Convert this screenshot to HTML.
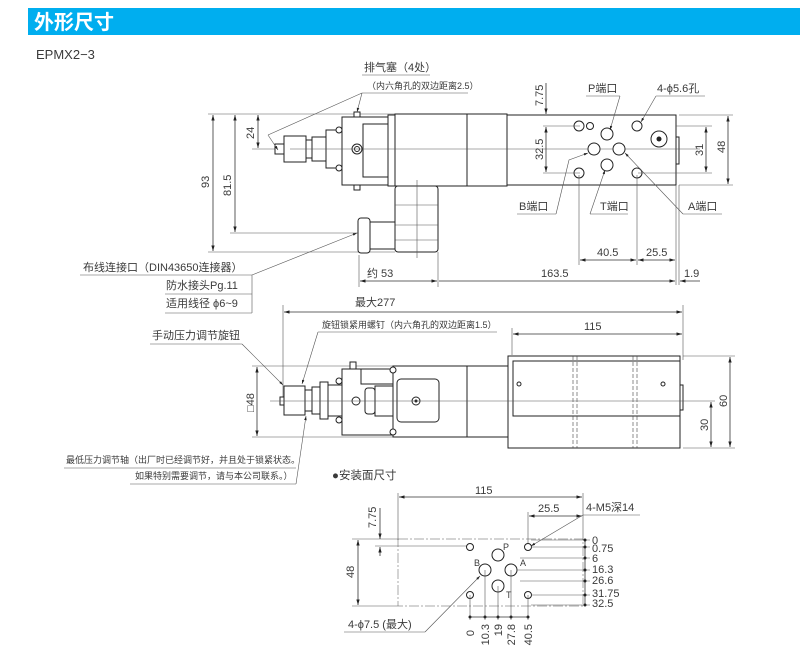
<!DOCTYPE html>
<html><head><meta charset="utf-8"><style>
body{margin:0;background:#fff;}
svg{display:block;font-family:"Liberation Sans","Noto Sans CJK SC",sans-serif;}
.l{stroke:#333;stroke-width:0.8;fill:none}
.t{stroke:#555;stroke-width:0.6;fill:none}
.b{stroke:#222;stroke-width:1;fill:#fff}
.c{stroke:#555;stroke-width:0.5;stroke-dasharray:10 2 2 2;fill:none}
.d{stroke:#444;stroke-width:0.6;stroke-dasharray:4 2;fill:none}
text{font-size:11px;fill:#3a3a3a}
.s{font-size:9px}
</style></head><body>
<svg width="800" height="659" viewBox="0 0 800 659">
<defs>
<marker id="a" viewBox="0 0 10 10" refX="10" refY="5" markerWidth="7" markerHeight="7" orient="auto-start-reverse"><path d="M0,2 L10,5 L0,8z" fill="#222"/></marker>
</defs>
<rect x="28" y="8" width="772" height="27" fill="#00aeef"/>
<text x="34" y="29" style="font-size:20px;fill:#fff;font-weight:bold">外形尺寸</text>
<text x="36" y="59" style="font-size:13px">EPMX2−3</text>

<!-- ===== TOP VIEW ===== -->
<line class="t" x1="208" y1="114" x2="507" y2="114"/>
<line class="t" x1="230" y1="233" x2="360" y2="233"/>
<line class="t" x1="208" y1="252" x2="395" y2="252"/>
<line class="t" x1="252" y1="149" x2="290" y2="149"/>
<line class="l" x1="213" y1="115" x2="213" y2="251" marker-start="url(#a)" marker-end="url(#a)"/>
<line class="l" x1="235" y1="115" x2="235" y2="232" marker-start="url(#a)" marker-end="url(#a)"/>
<line class="l" x1="258" y1="115" x2="258" y2="148" marker-start="url(#a)" marker-end="url(#a)"/>
<text x="209" y="188" transform="rotate(-90 209 188)">93</text>
<text x="231" y="196" transform="rotate(-90 231 196)">81.5</text>
<text x="254" y="139" transform="rotate(-90 254 139)">24</text>
<line class="l" x1="431" y1="115" x2="431" y2="148" marker-start="url(#a)" marker-end="url(#a)"/>
<text x="428" y="145" transform="rotate(-90 428 145)">25.1</text>
<rect class="b" x="275" y="144" width="10" height="10"/>
<rect class="b" x="284" y="136" width="22" height="26"/>
<rect class="b" x="306" y="140" width="6" height="18"/>
<rect class="b" x="312" y="137" width="14" height="24"/>
<rect class="b" x="326" y="130" width="16" height="38"/>
<circle class="b" cx="339" cy="130" r="3"/><circle class="b" cx="339" cy="168" r="3"/>
<rect class="b" x="342" y="117" width="46" height="68"/>
<rect class="b" x="363" y="124" width="25" height="53"/>
<circle class="b" cx="357" cy="149" r="5"/><circle class="b" cx="357" cy="149" r="2.5"/>
<rect class="b" x="354" y="112" width="6" height="5"/><rect class="b" x="354" y="185" width="6" height="5"/>
<rect class="b" x="388" y="115" width="7" height="71"/>
<rect class="b" x="395" y="114" width="72" height="72"/>
<rect class="b" x="467" y="114" width="40" height="72"/>
<rect class="b" x="507" y="115" width="169" height="70"/>
<rect class="b" x="676" y="137" width="3" height="27"/>
<rect class="b" x="395" y="186" width="43" height="66" rx="3"/>
<line class="t" x1="395" y1="205" x2="438" y2="205"/>
<line class="t" x1="395" y1="225" x2="438" y2="225"/>
<line class="t" x1="395" y1="240" x2="438" y2="240"/>
<rect class="b" x="358" y="218" width="12" height="35" rx="3"/>
<rect class="b" x="370" y="222" width="25" height="27"/>
<line class="t" x1="417" y1="180" x2="417" y2="258"/>
<line class="t" x1="290" y1="149" x2="700" y2="149"/>
<g class="b">
<circle cx="579" cy="126" r="5"/><circle cx="590" cy="126" r="3.5"/>
<circle cx="607" cy="134" r="6"/><circle cx="594" cy="149" r="6"/><circle cx="619" cy="149" r="6"/>
<circle cx="607" cy="165" r="6"/><circle cx="579" cy="173" r="5"/><circle cx="637" cy="173" r="5"/>
<circle cx="637" cy="126" r="5"/><circle cx="659" cy="139" r="8"/>
</g>
<circle cx="659" cy="139" r="2.5" fill="#222"/>
<line class="t" x1="543" y1="126" x2="580" y2="126"/>
<line class="t" x1="543" y1="173" x2="580" y2="173"/>
<line class="t" x1="676" y1="126" x2="712" y2="126"/><line class="t" x1="638" y1="173" x2="712" y2="173"/>
<line class="t" x1="679" y1="115" x2="733" y2="115"/><line class="t" x1="679" y1="185" x2="733" y2="185"/>
<line class="l" x1="728" y1="116" x2="728" y2="184" marker-start="url(#a)" marker-end="url(#a)"/>
<line class="l" x1="706" y1="127" x2="706" y2="172" marker-start="url(#a)" marker-end="url(#a)"/>
<line class="l" x1="546" y1="127" x2="546" y2="172" marker-start="url(#a)" marker-end="url(#a)"/>
<line class="l" x1="546" y1="83" x2="546" y2="114" marker-end="url(#a)"/>
<text x="725" y="153" transform="rotate(-90 725 153)">48</text>
<text x="703" y="156" transform="rotate(-90 703 156)">31</text>
<text x="543" y="160" transform="rotate(-90 543 160)">32.5</text>
<text x="543" y="106" transform="rotate(-90 543 106)">7.75</text>
<text x="588" y="92">P端口</text>
<line class="t" x1="586" y1="96" x2="620" y2="96"/><line class="t" x1="620" y1="96" x2="610" y2="130" marker-end="url(#a)"/>
<text x="657" y="92">4-ϕ5.6孔</text>
<line class="t" x1="656" y1="96" x2="705" y2="96"/><line class="t" x1="656" y1="96" x2="641" y2="122" marker-end="url(#a)"/>
<text x="519" y="210">B端口</text>
<line class="t" x1="517" y1="214" x2="556" y2="214"/><polyline class="t" points="556,214 569,160 588,153" marker-end="url(#a)"/>
<text x="600" y="210">T端口</text>
<line class="t" x1="590" y1="214" x2="628" y2="214"/><line class="t" x1="590" y1="214" x2="605" y2="170" marker-end="url(#a)"/>
<text x="688" y="210">A端口</text>
<line class="t" x1="683" y1="214" x2="722" y2="214"/><line class="t" x1="683" y1="214" x2="625" y2="153" marker-end="url(#a)"/>
<line class="t" x1="579" y1="175" x2="579" y2="265"/><line class="t" x1="637" y1="175" x2="637" y2="265"/>
<line class="t" x1="676" y1="185" x2="676" y2="285"/><line class="t" x1="679" y1="185" x2="679" y2="285"/>
<line class="l" x1="580" y1="260" x2="636" y2="260" marker-start="url(#a)" marker-end="url(#a)"/>
<line class="l" x1="638" y1="260" x2="675" y2="260" marker-start="url(#a)" marker-end="url(#a)"/>
<text x="597" y="256">40.5</text><text x="646" y="256">25.5</text>
<line class="t" x1="359" y1="255" x2="359" y2="287"/><line class="t" x1="438" y1="252" x2="438" y2="287"/>
<line class="l" x1="360" y1="281" x2="437" y2="281" marker-start="url(#a)" marker-end="url(#a)"/>
<line class="l" x1="439" y1="281" x2="675" y2="281" marker-end="url(#a)"/>
<line class="l" x1="700" y1="281" x2="680" y2="281" marker-end="url(#a)"/>
<text x="367" y="277">约 53</text><text x="541" y="277">163.5</text><text x="684" y="277">1.9</text>
<text x="364" y="71">排气塞（4处）</text>
<line class="t" x1="362" y1="75" x2="430" y2="75"/>
<text x="367" y="89" class="s">（内六角孔的双边距离2.5）</text>
<line class="t" x1="362" y1="93" x2="468" y2="93"/>
<line class="t" x1="362" y1="93" x2="357" y2="112" marker-end="url(#a)"/>
<line class="t" x1="362" y1="93" x2="268" y2="135"/><line class="t" x1="268" y1="135" x2="278" y2="150" marker-end="url(#a)"/>
<text x="83" y="271">布线连接口（DIN43650连接器）</text>
<line class="t" x1="80" y1="275" x2="252" y2="275"/>
<line class="t" x1="252" y1="275" x2="357" y2="233" marker-end="url(#a)"/>
<text x="166" y="289">防水接头Pg.11</text>
<line class="t" x1="165" y1="294" x2="252" y2="294"/>
<text x="166" y="307">适用线径 ϕ6~9</text>
<line class="t" x1="165" y1="313" x2="252" y2="313"/>
<line class="t" x1="252" y1="275" x2="252" y2="313"/>

<!-- ===== MID VIEW ===== -->
<text x="355" y="306">最大277</text>
<line class="t" x1="283" y1="305" x2="283" y2="400"/><line class="t" x1="683" y1="305" x2="683" y2="360"/>
<line class="l" x1="284" y1="312" x2="682" y2="312" marker-start="url(#a)" marker-end="url(#a)"/>
<text x="584" y="330">115</text>
<line class="t" x1="512" y1="328" x2="512" y2="355"/>
<line class="l" x1="513" y1="334" x2="682" y2="334" marker-start="url(#a)" marker-end="url(#a)"/>
<text x="322" y="328" class="s">旋钮锁紧用螺钉（内六角孔的双边距离1.5）</text>
<line class="t" x1="318" y1="332" x2="497" y2="332"/>
<line class="t" x1="318" y1="332" x2="302" y2="384" marker-end="url(#a)"/>
<text x="152" y="339">手动压力调节旋钮</text>
<line class="t" x1="150" y1="344" x2="242" y2="344"/>
<line class="t" x1="242" y1="344" x2="283" y2="385" marker-end="url(#a)"/>
<line class="t" x1="252" y1="366" x2="508" y2="366"/><line class="t" x1="252" y1="437" x2="508" y2="437"/>
<line class="l" x1="257" y1="367" x2="257" y2="436" marker-start="url(#a)" marker-end="url(#a)"/>
<text x="254" y="412" transform="rotate(-90 254 412)">□48</text>
<rect class="b" x="280" y="397" width="5" height="8"/>
<rect class="b" x="284" y="386" width="21" height="29"/>
<rect class="b" x="305" y="390" width="7" height="21"/>
<rect class="b" x="312" y="387" width="8" height="27"/>
<rect class="b" x="320" y="382" width="8" height="37"/>
<rect class="b" x="328" y="385" width="14" height="31"/>
<rect class="b" x="342" y="369" width="51" height="66"/>
<rect class="b" x="350" y="362" width="6" height="7"/>
<rect class="b" x="361" y="369" width="32" height="15"/>
<rect class="b" x="365" y="388" width="10" height="26" rx="3"/>
<rect class="b" x="375" y="386" width="22" height="30"/>
<circle class="b" cx="356" cy="401" r="4"/>
<circle class="b" cx="339" cy="381" r="3"/><circle class="b" cx="339" cy="420" r="3"/>
<rect class="b" x="393" y="366" width="74" height="71"/>
<circle class="b" cx="393" cy="370" r="3"/><circle class="b" cx="393" cy="432" r="3"/>
<rect class="b" x="397" y="379" width="42" height="43" rx="4"/>
<circle class="b" cx="416" cy="401" r="4"/><circle cx="416" cy="401" r="1.5" fill="#222"/>
<rect class="b" x="467" y="366" width="41" height="71"/>
<rect class="b" x="508" y="356" width="172" height="92"/>
<rect class="b" x="513" y="361" width="167" height="55"/>
<rect class="b" x="680" y="385" width="3" height="25"/>
<circle class="b" cx="519" cy="384" r="2"/><circle class="b" cx="663" cy="384" r="2"/>
<line class="d" x1="573" y1="356" x2="573" y2="448"/><line class="d" x1="577" y1="356" x2="577" y2="448"/>
<line class="d" x1="633" y1="356" x2="633" y2="448"/><line class="d" x1="637" y1="356" x2="637" y2="448"/>
<line class="t" x1="270" y1="401" x2="715" y2="401"/>
<line class="t" x1="683" y1="356" x2="735" y2="356"/><line class="t" x1="683" y1="448" x2="735" y2="448"/>
<line class="l" x1="730" y1="357" x2="730" y2="447" marker-start="url(#a)" marker-end="url(#a)"/>
<line class="l" x1="711" y1="402" x2="711" y2="447" marker-start="url(#a)" marker-end="url(#a)"/>
<text x="727" y="407" transform="rotate(-90 727 407)">60</text>
<text x="708" y="431" transform="rotate(-90 708 431)">30</text>
<text x="66" y="463" class="s">最低压力调节轴（出厂时已经调节好，并且处于锁紧状态。</text>
<line class="t" x1="64" y1="468" x2="296" y2="468"/>
<text x="135" y="479" class="s">如果特别需要调节，请与本公司联系。）</text>
<line class="t" x1="130" y1="484" x2="296" y2="484"/>
<line class="t" x1="296" y1="484" x2="306" y2="416" marker-end="url(#a)"/>

<!-- ===== BOTTOM VIEW ===== -->
<text x="332" y="479" style="font-size:11.5px">●安装面尺寸</text>
<line class="t" x1="398" y1="493" x2="398" y2="540"/><line class="t" x1="583" y1="493" x2="583" y2="540"/>
<line class="l" x1="399" y1="497" x2="582" y2="497" marker-start="url(#a)" marker-end="url(#a)"/>
<text x="475" y="494">115</text>
<line class="t" x1="528" y1="512" x2="528" y2="546"/>
<line class="l" x1="529" y1="516" x2="582" y2="516" marker-start="url(#a)" marker-end="url(#a)"/>
<text x="538" y="512">25.5</text>
<text x="586" y="511">4-M5深14</text>
<line class="t" x1="583" y1="515" x2="640" y2="515"/>
<line class="t" x1="583" y1="515" x2="531" y2="546" marker-end="url(#a)"/>
<rect class="c" x="398" y="539" width="185" height="67"/>
<line class="t" x1="352" y1="539" x2="398" y2="539"/><line class="t" x1="352" y1="606" x2="398" y2="606"/>
<line class="t" x1="375" y1="546" x2="470" y2="546"/>
<line class="l" x1="358" y1="540" x2="358" y2="605" marker-start="url(#a)" marker-end="url(#a)"/>
<text x="354" y="578" transform="rotate(-90 354 578)">48</text>
<line class="l" x1="380" y1="508" x2="380" y2="539" marker-end="url(#a)"/>
<line class="l" x1="380" y1="556" x2="380" y2="547" marker-end="url(#a)"/>
<text x="376" y="528" transform="rotate(-90 376 528)">7.75</text>
<g class="b">
<circle cx="470" cy="547" r="3.5"/><circle cx="528" cy="547" r="3.5"/><circle cx="470" cy="595" r="3.5"/><circle cx="528" cy="595" r="3.5"/>
<circle cx="498" cy="555" r="6"/><circle cx="485" cy="570" r="6"/><circle cx="511" cy="570" r="6"/><circle cx="498" cy="586" r="6"/>
</g>
<text x="503" y="550" class="s">P</text><text x="474" y="566" class="s">B</text><text x="520" y="566" class="s">A</text><text x="506" y="598" class="s">T</text>
<g class="t">
<line x1="531" y1="540" x2="590" y2="540"/><line x1="531" y1="547" x2="590" y2="547"/>
<line x1="520" y1="558" x2="590" y2="558"/><line x1="517" y1="570" x2="590" y2="570"/>
<line x1="520" y1="581" x2="590" y2="581"/><line x1="531" y1="595" x2="590" y2="595"/>
<line x1="531" y1="605" x2="590" y2="605"/>
<line x1="470" y1="595" x2="470" y2="620"/><line x1="485" y1="570" x2="485" y2="620"/>
<line x1="498" y1="586" x2="498" y2="620"/><line x1="511" y1="570" x2="511" y2="620"/><line x1="528" y1="595" x2="528" y2="620"/>
</g>
<line class="l" x1="585" y1="540" x2="585" y2="605"/>
<g fill="#222"><circle cx="585" cy="540" r="1.5"/><circle cx="585" cy="547" r="1.5"/><circle cx="585" cy="558" r="1.5"/><circle cx="585" cy="570" r="1.5"/><circle cx="585" cy="581" r="1.5"/><circle cx="585" cy="595" r="1.5"/><circle cx="585" cy="605" r="1.5"/>
<circle cx="470" cy="617" r="1.5"/><circle cx="485" cy="617" r="1.5"/><circle cx="498" cy="617" r="1.5"/><circle cx="511" cy="617" r="1.5"/><circle cx="528" cy="617" r="1.5"/></g>
<line class="l" x1="470" y1="617" x2="528" y2="617"/>
<g style="font-size:10.5px">
<text x="592" y="544">0</text><text x="592" y="552">0.75</text><text x="592" y="562">6</text><text x="592" y="573">16.3</text><text x="592" y="584">26.6</text><text x="592" y="597">31.75</text><text x="592" y="607">32.5</text>
</g>
<g style="font-size:10.5px">
<text x="474" y="630" transform="rotate(-90 474 630)" text-anchor="end">0</text>
<text x="489" y="624" transform="rotate(-90 489 624)" text-anchor="end">10.3</text>
<text x="502" y="624" transform="rotate(-90 502 624)" text-anchor="end">19</text>
<text x="515" y="624" transform="rotate(-90 515 624)" text-anchor="end">27.8</text>
<text x="532" y="624" transform="rotate(-90 532 624)" text-anchor="end">40.5</text>
</g>
<text x="348" y="628">4-ϕ7.5 (最大)</text>
<line class="t" x1="344" y1="632" x2="425" y2="632"/>
<line class="t" x1="425" y1="632" x2="480" y2="576" marker-end="url(#a)"/>
</svg>
</body></html>
